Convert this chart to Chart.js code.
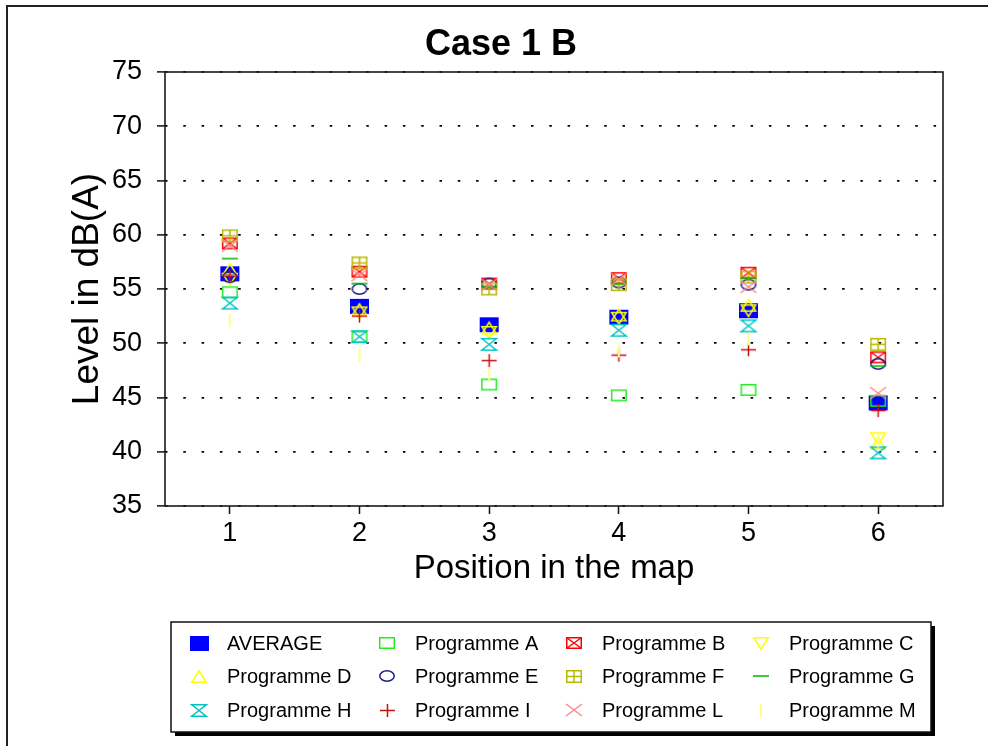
<!DOCTYPE html>
<html>
<head>
<meta charset="utf-8">
<script src="https://cdn.jsdelivr.net/npm/chart.js@4"></script>
<style>
  html, body { margin: 0; padding: 0; background: #ffffff; }
  #wrap { width: 988px; height: 746px; }
</style>
</head>
<body>
<div id="wrap"><canvas id="chart" width="988" height="746"></canvas></div>
<script>
// Measured noise level (dB(A)) at each position in the map
const positions = ['1', '2', '3', '4', '5', '6'];
const yTicks = [35, 40, 45, 50, 55, 60, 65, 70, 75];

const average    = [56.4, 53.4, 51.7, 52.4, 53.0, 44.5];
const programmeA = [54.7, 50.6, 46.2, 45.2, 45.7, 44.7];
const programmeB = [59.2, 56.6, 55.5, 56.0, 56.5, 48.7];
const programmeC = [55.9, 52.8, 51.0, 52.3, 53.0, 41.2];
const programmeD = [56.8, 53.1, 51.4, 52.6, 53.5, 40.8];
const programmeE = [56.1, 55.0, 55.5, 55.6, 55.4, 48.1];
const programmeF = [59.9, 57.4, 55.0, 55.4, 56.1, 49.9];
const programmeG = [57.8, 55.5, 55.2, 55.5, 56.0, 47.9];
const programmeH = [53.7, 50.6, 49.9, 51.2, 51.6, 39.9];
const programmeI = [56.2, 52.5, 48.4, 48.9, 49.4, 43.8];
const programmeL = [59.0, 56.3, 55.4, 55.9, 55.2, 45.4];
const programmeM = [52.1, 48.9, 47.1, 49.3, 50.4, 41.0];

const seriesNames = ['AVERAGE', 'Programme A', 'Programme B', 'Programme C',
                     'Programme D', 'Programme E', 'Programme F', 'Programme G',
                     'Programme H', 'Programme I', 'Programme L', 'Programme M'];
const seriesValues = [average, programmeA, programmeB, programmeC,
                      programmeD, programmeE, programmeF, programmeG,
                      programmeH, programmeI, programmeL, programmeM];

const FONT = "'Liberation Sans', Arial, Helvetica, sans-serif";

// Small canvases used as point symbols
function marker(w, h, draw) {
  const c = document.createElement('canvas');
  c.width = w + 4;
  c.height = h + 4;
  const g = c.getContext('2d');
  g.translate(2, 2);
  g.lineWidth = 1.5;
  g.lineCap = 'butt';
  draw(g, w, h);
  return c;
}

const symbols = [
  // AVERAGE: filled square
  marker(19, 15, (g, w, h) => { g.fillStyle = '#0000ff'; g.fillRect(0, 0, w, h); }),
  // A: open square
  marker(16, 12, (g, w, h) => { g.strokeStyle = '#22ee22'; g.strokeRect(0.75, 0.75, w - 1.5, h - 1.5); }),
  // B: square with diagonal cross
  marker(16, 12, (g, w, h) => {
    g.strokeStyle = '#ff0000';
    g.strokeRect(0.75, 0.75, w - 1.5, h - 1.5);
    g.beginPath(); g.moveTo(0.75, 0.75); g.lineTo(w - 0.75, h - 0.75);
    g.moveTo(w - 0.75, 0.75); g.lineTo(0.75, h - 0.75); g.stroke();
  }),
  // C: downward triangle
  marker(16, 13, (g, w, h) => {
    g.strokeStyle = '#ffff00';
    g.beginPath(); g.moveTo(0.75, 0.75); g.lineTo(w - 0.75, 0.75); g.lineTo(w / 2, h - 0.75); g.closePath(); g.stroke();
  }),
  // D: upward triangle
  marker(16, 13, (g, w, h) => {
    g.strokeStyle = '#ffff00';
    g.beginPath(); g.moveTo(w / 2, 0.75); g.lineTo(w - 0.75, h - 0.75); g.lineTo(0.75, h - 0.75); g.closePath(); g.stroke();
  }),
  // E: open ellipse
  marker(16, 12, (g, w, h) => {
    g.strokeStyle = '#1a1a8a';
    g.beginPath(); g.ellipse(w / 2, h / 2, w / 2 - 0.75, h / 2 - 0.75, 0, 0, Math.PI * 2); g.stroke();
  }),
  // F: square with plus
  marker(16, 13, (g, w, h) => {
    g.strokeStyle = '#b8b800';
    g.strokeRect(0.75, 0.75, w - 1.5, h - 1.5);
    g.beginPath(); g.moveTo(w / 2, 0.75); g.lineTo(w / 2, h - 0.75);
    g.moveTo(0.75, h / 2); g.lineTo(w - 0.75, h / 2); g.stroke();
  }),
  // G: horizontal dash
  marker(16, 4, (g, w, h) => {
    g.strokeStyle = '#00b400';
    g.beginPath(); g.moveTo(0, h / 2); g.lineTo(w, h / 2); g.stroke();
  }),
  // H: hourglass
  marker(16, 13, (g, w, h) => {
    g.strokeStyle = '#00c4c4';
    g.beginPath();
    g.moveTo(0.75, 0.75); g.lineTo(w - 0.75, 0.75); g.lineTo(0.75, h - 0.75); g.lineTo(w - 0.75, h - 0.75); g.closePath();
    g.stroke();
  }),
  // I: plus
  marker(15, 13, (g, w, h) => {
    g.strokeStyle = '#c81010';
    g.beginPath(); g.moveTo(w / 2, 0); g.lineTo(w / 2, h);
    g.moveTo(0, h / 2); g.lineTo(w, h / 2); g.stroke();
  }),
  // L: diagonal cross
  marker(16, 12, (g, w, h) => {
    g.strokeStyle = '#ff8888';
    g.beginPath(); g.moveTo(0, 0); g.lineTo(w, h); g.moveTo(w, 0); g.lineTo(0, h); g.stroke();
  }),
  // M: vertical tick
  marker(4, 13, (g, w, h) => {
    g.strokeStyle = '#ffff88';
    g.lineWidth = 2;
    g.beginPath(); g.moveTo(w / 2, 0); g.lineTo(w / 2, h); g.stroke();
  })
];

const datasets = seriesNames.map((name, i) => ({
  label: name,
  data: seriesValues[i],
  showLine: false,
  pointStyle: symbols[i],
  pointRadius: 8,
  order: seriesNames.length - i
}));

// Page frame, plot box, chart title and the boxed four-column legend
const decorations = {
  id: 'decorations',
  beforeDraw(chart) {
    const ctx = chart.ctx;
    ctx.save();
    ctx.fillStyle = '#ffffff';
    ctx.fillRect(0, 0, chart.width, chart.height);
    ctx.strokeStyle = '#222222';
    ctx.lineWidth = 2;
    ctx.beginPath();
    ctx.moveTo(7, chart.height); ctx.lineTo(7, 6); ctx.lineTo(chart.width, 6);
    ctx.stroke();
    ctx.restore();
  },
  afterDatasetsDraw(chart) {
    const ctx = chart.ctx;
    const a = chart.chartArea;
    ctx.save();
    ctx.strokeStyle = '#1a1a1a';
    ctx.lineWidth = 1.6;
    ctx.strokeRect(a.left, a.top, a.right - a.left, a.bottom - a.top);
    ctx.restore();
  },
  afterDraw(chart) {
    const ctx = chart.ctx;
    ctx.save();
    // title
    ctx.fillStyle = '#000000';
    ctx.font = 'bold 36px ' + FONT;
    ctx.textAlign = 'center';
    ctx.textBaseline = 'alphabetic';
    ctx.fillText('Case 1 B', 501, 55);

    // legend box with drop shadow
    const lx = 171, ly = 622, lw = 760, lh = 110;
    ctx.fillStyle = '#000000';
    ctx.fillRect(lx + 4, ly + 4, lw, lh);
    ctx.fillStyle = '#ffffff';
    ctx.fillRect(lx, ly, lw, lh);
    ctx.strokeStyle = '#111111';
    ctx.lineWidth = 1.5;
    ctx.strokeRect(lx, ly, lw, lh);

    const markerX = [199, 387, 574, 761];
    const textX = [227, 415, 602, 789];
    const rowY = [643, 676, 710];
    ctx.font = '20px ' + FONT;
    ctx.textAlign = 'left';
    ctx.textBaseline = 'middle';
    ctx.fillStyle = '#000000';
    chart.data.datasets.forEach((ds, i) => {
      const col = i % 4, row = Math.floor(i / 4);
      const s = ds.pointStyle;
      ctx.drawImage(s, Math.round(markerX[col] - s.width / 2), Math.round(rowY[row] - s.height / 2));
      ctx.fillText(ds.label, textX[col], rowY[row] + 1);
    });
    ctx.restore();
  }
};

new Chart(document.getElementById('chart'), {
  type: 'line',
  data: { labels: positions, datasets },
  plugins: [decorations],
  options: {
    responsive: false,
    animation: false,
    events: [],
    devicePixelRatio: 1,
    layout: { padding: { left: 66, right: 45, top: 72, bottom: 157 } },
    plugins: { legend: { display: false }, title: { display: false }, tooltip: { enabled: false } },
    scales: {
      x: {
        type: 'category',
        offset: true,
        afterFit(scale) { scale.height = 83; },
        grid: {
          offset: false,
          drawOnChartArea: false,
          drawTicks: true,
          tickLength: 8,
          tickColor: '#111111',
          tickWidth: 1.5
        },
        border: { display: false },
        ticks: { color: '#000000', font: { family: FONT, size: 27 }, padding: 3, maxRotation: 0 },
        title: {
          display: true,
          text: 'Position in the map',
          color: '#000000',
          font: { family: FONT, size: 33, lineHeight: 1.2 },
          padding: 0
        }
      },
      y: {
        min: 35,
        max: 75,
        afterFit(scale) { scale.width = 99; },
        afterBuildTicks(scale) { scale.ticks = yTicks.map(v => ({ value: v })); },
        grid: {
          color: '#000000',
          lineWidth: 1.8,
          drawTicks: true,
          tickLength: 8,
          tickColor: '#111111',
          tickWidth: 1.5,
          tickBorderDash: [0, 0]
        },
        border: { display: false, dash: [2.5, 15.8] },
        ticks: { color: '#000000', font: { family: FONT, size: 27 }, padding: 15 },
        title: {
          display: true,
          text: 'Level in dB(A)',
          color: '#000000',
          font: { family: FONT, size: 37, lineHeight: 1.2 },
          padding: 0
        }
      }
    }
  }
});
</script>
</body>
</html>
